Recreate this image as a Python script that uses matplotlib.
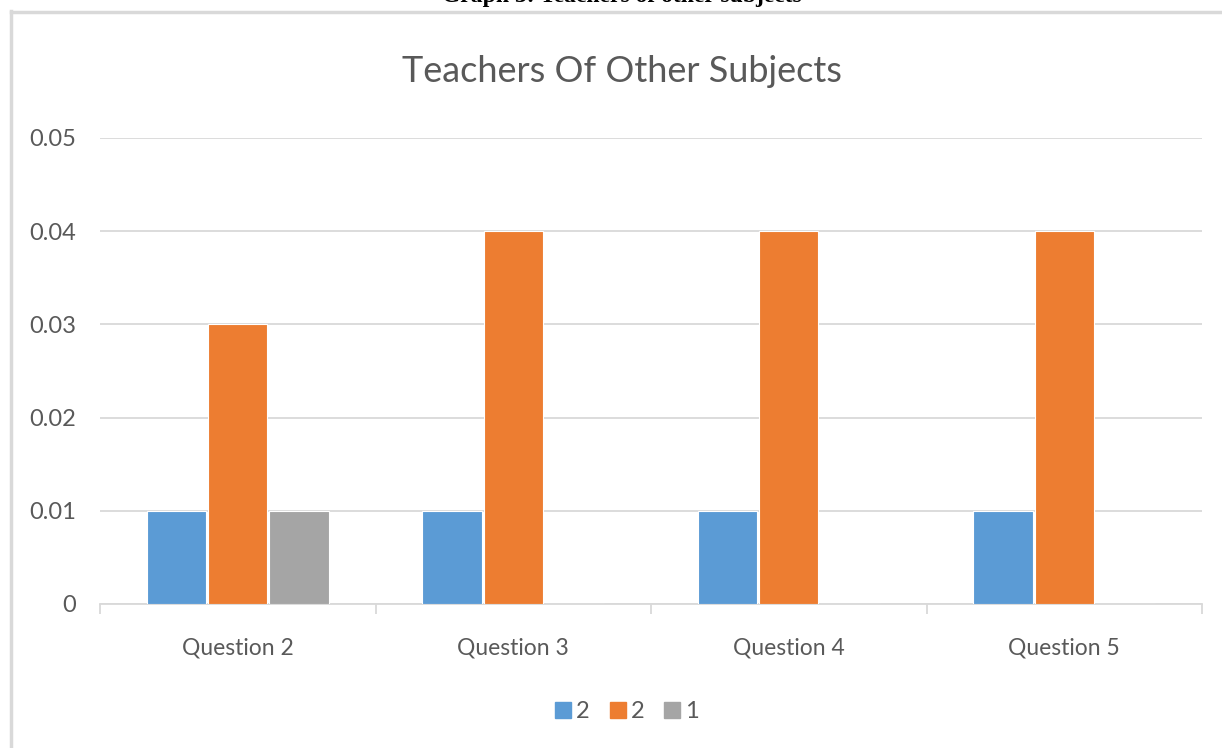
import numpy as np
import matplotlib.pyplot as plt
from matplotlib.lines import Line2D
from matplotlib.ticker import FixedLocator

# Datos
questions = ['Question 2', 'Question 3', 'Question 4', 'Question 5']
series_names = ['2', '2', '1']
serie_a = [0.01, 0.01, 0.01, 0.01]
serie_b = [0.03, 0.04, 0.04, 0.04]
serie_c = [0.01, 0, 0, 0]
y_ticks = [0, 0.01, 0.02, 0.03, 0.04, 0.05]
y_labels = ['0', '0.01', '0.02', '0.03', '0.04', '0.05']

colores = ['#5b9bd5', '#ed7d31', '#a5a5a5']
gris_txt = '#595959'
gris_lin = '#d9d9d9'

plt.rcParams['font.family'] = ['Lato', 'DejaVu Sans']

fig = plt.figure(figsize=(12.22, 7.48), dpi=100)
ax = fig.add_axes([100 / 1222, 1 - 604 / 748, 1102 / 1222, 466 / 748])

x = np.arange(len(questions))
ancho = 0.215
paso = 0.222
for i, vals in enumerate([serie_a, serie_b, serie_c]):
    ax.bar(x + (i - 1) * paso, vals, ancho, color=colores[i],
           edgecolor='white', linewidth=0.8, zorder=3, label=series_names[i])

ax.set_xlim(-0.5, len(questions) - 0.5)
ax.set_ylim(0, 0.05)
ax.set_yticks(y_ticks)
ax.set_yticklabels(y_labels)
ax.yaxis.grid(True, color=gris_lin, linewidth=1.3, zorder=0)
ax.tick_params(axis='y', length=0, pad=17, labelsize=17, labelcolor=gris_txt)

ax.set_xticks(x)
ax.set_xticklabels(questions)
ax.xaxis.set_minor_locator(FixedLocator(np.arange(len(questions) + 1) - 0.5))
ax.tick_params(axis='x', which='major', length=0, pad=24, labelsize=16.5, labelcolor=gris_txt)
ax.tick_params(axis='x', which='minor', length=7, width=1.3, color=gris_lin)

for s in ['top', 'right', 'left']:
    ax.spines[s].set_visible(False)
ax.spines['bottom'].set_color(gris_lin)
ax.spines['bottom'].set_linewidth(1.3)

fig.text(622 / 1222, 1 - 72 / 748, 'Teachers Of Other Subjects', ha='center', va='center',
         fontsize=26, color=gris_txt)

# leyenda
handles = [Line2D([], [], marker='s', linestyle='none', markersize=11,
                  markerfacecolor=c, markeredgecolor=c) for c in colores]
fig.legend(handles, series_names, loc='center', bbox_to_anchor=(625 / 1222, 1 - 712 / 748),
           ncol=3, frameon=False, fontsize=17, labelcolor=gris_txt,
           handletextpad=0.05, columnspacing=0.7, handlelength=1.0)

# marco y pie de la figura original (recortado)
fig.add_artist(Line2D([11 / 1222, 11 / 1222], [0, 1 - 11 / 748], color=gris_lin, linewidth=2.5))
fig.add_artist(Line2D([11 / 1222, 1], [1 - 12 / 748, 1 - 12 / 748], color=gris_lin, linewidth=2.5))
fig.text(622 / 1222, 1 - 2 / 748, 'Graph 3: Teachers of other subjects', ha='center',
         va='baseline', fontsize=17, fontweight='bold', family='Liberation Serif', color='black')

fig.savefig('out.png', dpi=100)
